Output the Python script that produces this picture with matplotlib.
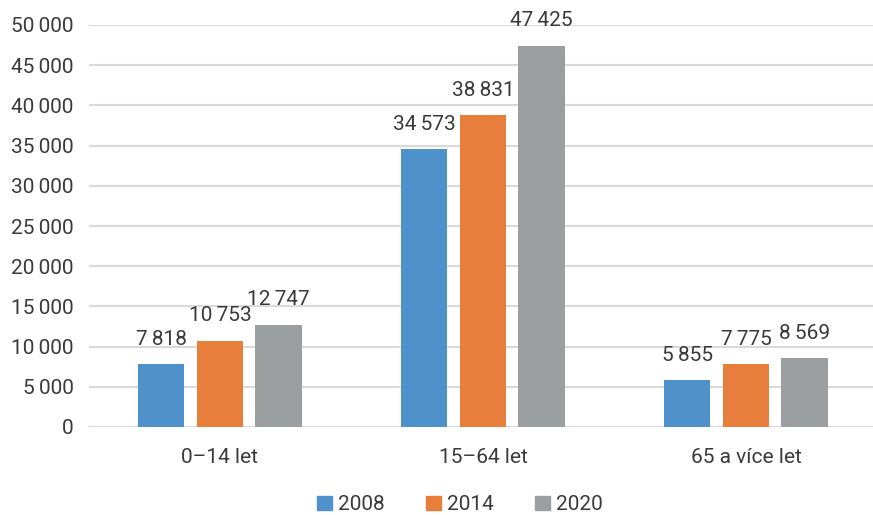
import matplotlib.pyplot as plt
from matplotlib.patches import Patch
import numpy as np

plt.rcParams['font.family'] = ['Roboto', 'DejaVu Sans']

categories = ['0–14 let', '15–64 let', '65 a více let']
years = ['2008', '2014', '2020']
v2008 = [7818, 34573, 5855]
v2014 = [10753, 38831, 7775]
v2020 = [12747, 47425, 8569]
colors = ['#4e91cb', '#e87e3b', '#9c9fa0']
yticks = list(range(0, 50001, 5000))

def fmt(v):
    s = f'{v:,}'
    return s.replace(',', '\u2009')

fig = plt.figure(figsize=(8.73, 5.15), dpi=100)
ax = fig.add_axes([89 / 873, 88 / 515, 1 - 89 / 873, 402 / 515])

x = np.arange(len(categories))
width = 0.176
step = 0.223
txtc = '#3a3a3a'
fs = 15
for i, (vals, col) in enumerate(zip([v2008, v2014, v2020], colors)):
    pos = x + (i - 1) * step
    bars = ax.bar(pos, vals, width, color=col, zorder=3)
    for b, v in zip(bars, vals):
        ax.annotate(fmt(v), (b.get_x() + b.get_width() / 2, v),
                    xytext=(0, 11), textcoords='offset points',
                    ha='center', va='bottom', fontsize=fs, color=txtc)

ax.set_xlim(-0.498, 2.483)
ax.set_ylim(0, 50000)
ax.set_yticks(yticks)
ax.set_yticklabels([fmt(t) for t in yticks])
ax.set_xticks(x)
ax.set_xticklabels(categories)
ax.tick_params(axis='both', length=0, labelsize=fs, colors=txtc)
ax.tick_params(axis='y', pad=11)
ax.tick_params(axis='x', pad=15)
ax.grid(axis='y', color='#d9d9d9', linewidth=1.5, zorder=0)
for s in ax.spines.values():
    s.set_visible(False)

handles = [Patch(color=c, label=y) for c, y in zip(colors, years)]
fig.legend(handles=handles, loc='lower center', bbox_to_anchor=(0.527, -0.035),
           ncol=3, frameon=False, fontsize=fs, handlelength=0.7,
           handleheight=0.7, handletextpad=0.3, columnspacing=2.0,
           labelcolor=txtc)

fig.savefig('out.png', dpi=100)
